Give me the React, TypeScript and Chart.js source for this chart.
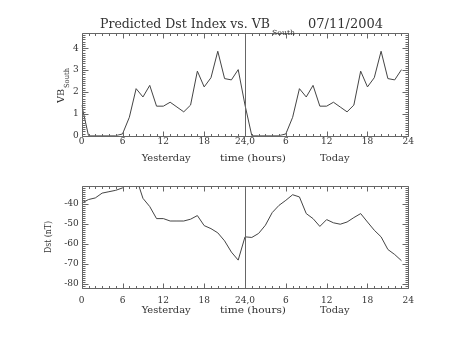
import React, { useEffect, useRef } from 'react';
import { Chart, registerables } from 'chart.js';

Chart.register(...registerables);

// ---------- data ----------
const X_MAJOR_TICKS = [0, 6, 12, 18, 24, 30, 36, 42, 48];
const X_TICK_LABELS = ['0', '6', '12', '18', '24,0', '6', '12', '18', '24'];
const VB_TICKS = [0, 1, 2, 3, 4];
const DST_TICKS = [-80, -70, -60, -50, -40];

const vbYesterday = [1.4, 0, 0, 0, 0, 0, 0.08, 0.84, 2.15, 1.77, 2.3, 1.35, 1.35, 1.53, 1.31, 1.09, 1.4, 2.95, 2.23, 2.65, 3.86, 2.61, 2.55, 3.02];
const vbToday = [1.4, 0, 0, 0, 0, 0, 0.08, 0.84, 2.15, 1.77, 2.3, 1.35, 1.35, 1.53, 1.31, 1.09, 1.4, 2.95, 2.23, 2.65, 3.86, 2.61, 2.55, 3.02];

const dstYesterday = [-39.8, -38.0, -37.2, -34.8, -34.1, -33.4, -32.2, -29.5, -27.0, -37.4, -41.5, -47.5, -47.5, -48.7, -48.7, -48.7, -47.8, -46.0, -51.0, -52.5, -54.6, -58.6, -64.2, -68.2];
const dstToday = [-56.6, -56.9, -54.9, -50.8, -44.5, -40.9, -38.4, -35.6, -36.7, -45.0, -47.5, -51.4, -48.0, -49.6, -50.3, -49.2, -47.0, -45.0, -49.2, -53.3, -56.6, -62.9, -65.4, -68.5];

const VB_RANGE = [0, 4.68];
const DST_RANGE = [-82.2, -31.2];

const TITLE_MAIN = 'Predicted Dst Index vs. VB';
const TITLE_SUB = 'South';
const TITLE_DATE = '07/11/2004';
const X_SUBLABELS = ['Yesterday', 'time (hours)', 'Today'];
const VB_AXIS_MAIN = 'VB';
const VB_AXIS_SUB = 'South';
const DST_AXIS = 'Dst (nT)';

// ---------- style ----------
const FONT = '"DejaVu Serif", serif';
const TEXT = '#333';
const FRAME = '#666';
const LINE = '#444';

const W = 453;
const H = 170;

function fitText(ctx: CanvasRenderingContext2D, text: string, x: number, y: number, width: number, size: number) {
  ctx.save();
  ctx.font = `${size}px ${FONT}`;
  const m = ctx.measureText(text).width;
  ctx.translate(x, y);
  ctx.scale(width / m, 1);
  ctx.textAlign = 'left';
  ctx.textBaseline = 'alphabetic';
  ctx.fillStyle = TEXT;
  ctx.fillText(text, 0, 0);
  ctx.restore();
}

function fitTextUp(ctx: CanvasRenderingContext2D, text: string, baseX: number, startY: number, length: number, size: number) {
  ctx.save();
  ctx.translate(baseX, startY);
  ctx.rotate(-Math.PI / 2);
  fitText(ctx, text, 0, 0, length, size);
  ctx.restore();
}

function makeFramePlugin(minorStep: number, majorStep: number, extra: (chart: any) => void) {
  return {
    id: 'idlFrame',
    afterDatasetsDraw(chart: any) {
      const ctx: CanvasRenderingContext2D = chart.ctx;
      const { left, right, top, bottom } = chart.chartArea;
      const xs = chart.scales.x;
      const ys = chart.scales.y;
      const r = (v: number) => Math.round(v) + 0.5;
      ctx.save();
      ctx.strokeStyle = FRAME;
      ctx.lineWidth = 1;
      ctx.beginPath();
      ctx.rect(r(left), r(top), Math.round(right) - Math.round(left), Math.round(bottom) - Math.round(top));
      // x ticks every hour
      for (let h = 0; h <= 48; h++) {
        const px = r(xs.getPixelForValue(h));
        const len = h % 6 === 0 ? 5 : 2.5;
        ctx.moveTo(px, r(bottom));
        ctx.lineTo(px, r(bottom) - len);
        ctx.moveTo(px, r(top));
        ctx.lineTo(px, r(top) + len);
      }
      // y ticks
      const n0 = Math.ceil(ys.min / minorStep - 1e-6);
      const n1 = Math.floor(ys.max / minorStep + 1e-6);
      const ratio = Math.round(majorStep / minorStep);
      for (let n = n0; n <= n1; n++) {
        const py = r(ys.getPixelForValue(n * minorStep));
        const len = n % ratio === 0 ? 6 : 3;
        ctx.moveTo(r(left), py);
        ctx.lineTo(r(left) + len, py);
        ctx.moveTo(r(right), py);
        ctx.lineTo(r(right) - len, py);
      }
      // day separator
      const mid = r(xs.getPixelForValue(24));
      ctx.moveTo(mid, r(top));
      ctx.lineTo(mid, r(bottom));
      ctx.stroke();
      ctx.restore();
      extra(chart);
    },
  };
}

function buildChart(
  canvas: HTMLCanvasElement,
  values: number[],
  range: number[],
  yTicks: number[],
  padTop: number,
  axisH: number,
  labelPad: number,
  plugin: any
) {
  const data = values.map((v, i) => ({ x: i, y: v }));
  return new Chart(canvas, {
    type: 'line',
    data: {
      datasets: [
        {
          data,
          borderColor: LINE,
          borderWidth: 1,
          pointRadius: 0,
          tension: 0,
          fill: false,
        },
      ],
    },
    options: {
      animation: false,
      responsive: false,
      maintainAspectRatio: false,
      devicePixelRatio: 1,
      events: [],
      layout: { padding: { left: 0, right: W - 408.3, top: padTop, bottom: 0 } },
      plugins: { legend: { display: false }, tooltip: { enabled: false }, title: { display: false } },
      scales: {
        x: {
          type: 'linear',
          min: 0,
          max: 48,
          afterBuildTicks: (s: any) => {
            s.ticks = X_MAJOR_TICKS.map((v) => ({ value: v }));
          },
          afterFit: (s: any) => {
            s.height = axisH;
          },
          ticks: {
            autoSkip: false,
            maxRotation: 0,
            padding: labelPad,
            color: TEXT,
            font: { family: FONT, size: 9 },
            callback: (_v: any, i: number) => X_TICK_LABELS[i],
          },
          grid: { display: false, drawTicks: false },
          border: { display: false },
        },
        y: {
          type: 'linear',
          min: range[0],
          max: range[1],
          afterBuildTicks: (s: any) => {
            s.ticks = yTicks.map((v) => ({ value: v }));
          },
          afterFit: (s: any) => {
            s.width = 81.7;
          },
          ticks: {
            padding: 3,
            color: TEXT,
            font: { family: FONT, size: 9 },
            callback: (v: any) => String(v),
          },
          grid: { display: false, drawTicks: false },
          border: { display: false },
        },
      },
    },
    plugins: [plugin],
  } as any);
}

function drawXSubLabels(ctx: CanvasRenderingContext2D, baseline: number) {
  fitText(ctx, X_SUBLABELS[0], 141.7, baseline, 49, 10);
  fitText(ctx, X_SUBLABELS[1], 220, baseline, 66, 10);
  fitText(ctx, X_SUBLABELS[2], 320, baseline, 29.5, 10);
}

export default function App() {
  const topRef = useRef<HTMLCanvasElement>(null);
  const botRef = useRef<HTMLCanvasElement>(null);

  useEffect(() => {
    const topPlugin = makeFramePlugin(0.1, 1, (chart: any) => {
      const ctx = chart.ctx;
      fitText(ctx, TITLE_MAIN, 100, 27.5, 170, 12);
      fitText(ctx, TITLE_SUB, 272, 35, 23, 7);
      fitText(ctx, TITLE_DATE, 308, 27.5, 75, 12);
      drawXSubLabels(ctx, 160.7);
      fitTextUp(ctx, VB_AXIS_MAIN, 64, 103, 14, 10);
      fitTextUp(ctx, VB_AXIS_SUB, 69, 88, 20, 7);
    });
    const botPlugin = makeFramePlugin(1, 10, (chart: any) => {
      const ctx = chart.ctx;
      drawXSubLabels(ctx, 143);
      fitTextUp(ctx, DST_AXIS, 51, 67 + 16, 32, 10);
    });
    const c1 = buildChart(topRef.current!, [...vbYesterday, ...vbToday], VB_RANGE, VB_TICKS, 33.3, H - 135.7, 1, topPlugin);
    const c2 = buildChart(botRef.current!, [...dstYesterday, ...dstToday], DST_RANGE, DST_TICKS, 15.9, H - 118.2, 7, botPlugin);
    return () => {
      c1.destroy();
      c2.destroy();
    };
  }, []);

  return (
    <div style={{ position: 'absolute', left: 0, top: 0, width: W, height: 2 * H, background: '#fff' }}>
      <canvas ref={topRef} width={W} height={H} style={{ position: 'absolute', left: 0, top: 0, width: W, height: H }} />
      <canvas ref={botRef} width={W} height={H} style={{ position: 'absolute', left: 0, top: H, width: W, height: H }} />
    </div>
  );
}
